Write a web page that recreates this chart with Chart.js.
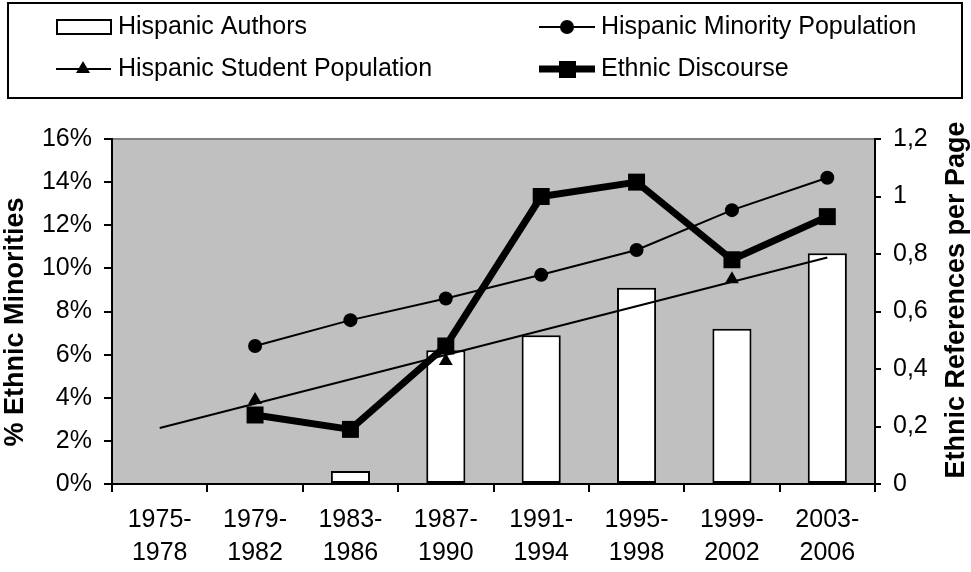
<!DOCTYPE html>
<html>
<head>
<meta charset="utf-8">
<script src="https://cdn.jsdelivr.net/npm/chart.js@4.4.1/dist/chart.umd.min.js"></script>
<style>
  body { margin: 0; background: #fff; }
  #wrap { width: 971px; height: 572px; }
</style>
</head>
<body>
<div id="wrap"><canvas id="chart" width="971" height="572"></canvas></div>
<script>
var categories = [['1975-', '1978'], ['1979-', '1982'], ['1983-', '1986'], ['1987-', '1990'],
                  ['1991-', '1994'], ['1995-', '1998'], ['1999-', '2002'], ['2003-', '2006']];

// left axis, percent
var hispanicAuthors = [null, null, 0.6, 6.2, 6.9, 9.1, 7.2, 10.7];
var minorityPopulation = [null, 6.4, 7.6, 8.6, 9.7, 10.85, 12.7, 14.2];
var studentPopulation = [null, 3.9, null, 5.7, null, null, 9.5, null];
var studentTrend = [2.6, null, null, null, null, null, null, 10.5];

// right axis, references per page
var ethnicDiscourse = [null, 0.24, 0.19, 0.48, 1.0, 1.05, 0.78, 0.93];

var FONT = "Arial, 'Liberation Sans', sans-serif";

var backdrop = {
  id: 'backdrop',
  beforeDraw: function(chart) {
    var ctx = chart.ctx, a = chart.chartArea;
    ctx.save();
    ctx.fillStyle = '#c0c0c0';
    ctx.fillRect(a.left, a.top, a.right - a.left, a.bottom - a.top);
    ctx.strokeStyle = '#808080';
    ctx.lineWidth = 2;
    ctx.beginPath();
    ctx.moveTo(a.left, a.top);
    ctx.lineTo(a.right, a.top);
    ctx.stroke();
    ctx.restore();
  }
};

var legendBox = {
  id: 'legendBox',
  afterDraw: function(chart) {
    var ctx = chart.ctx;
    ctx.save();
    ctx.strokeStyle = '#000';
    ctx.lineWidth = 2;
    ctx.strokeRect(8, 3, 954, 95);

    ctx.font = '25px ' + FONT;
    ctx.fillStyle = '#000';
    ctx.textBaseline = 'middle';

    // Hispanic Authors
    ctx.fillStyle = '#fff';
    ctx.fillRect(57, 20, 54, 14);
    ctx.strokeRect(57, 20, 54, 14);
    ctx.fillStyle = '#000';
    ctx.fillText('Hispanic Authors', 118, 27);

    // Hispanic Minority Population
    ctx.beginPath();
    ctx.moveTo(539, 27); ctx.lineTo(595, 27); ctx.stroke();
    ctx.beginPath(); ctx.arc(567, 27, 7, 0, Math.PI * 2); ctx.fill();
    ctx.fillText('Hispanic Minority Population', 601, 27);

    // Hispanic Student Population
    ctx.beginPath();
    ctx.moveTo(56, 69); ctx.lineTo(111, 69); ctx.stroke();
    ctx.beginPath();
    ctx.moveTo(83, 61); ctx.lineTo(90, 73); ctx.lineTo(76, 73); ctx.closePath(); ctx.fill();
    ctx.fillText('Hispanic Student Population', 118, 69);

    // Ethnic Discourse
    ctx.lineWidth = 7;
    ctx.beginPath();
    ctx.moveTo(539, 69); ctx.lineTo(595, 69); ctx.stroke();
    ctx.fillRect(559, 61, 17, 17);
    ctx.fillText('Ethnic Discourse', 601, 69);

    // axis titles, both reading bottom to top
    var a = chart.chartArea;
    ctx.font = 'bold 27px ' + FONT;
    ctx.textAlign = 'center';
    ctx.save();
    ctx.translate(16, 322);
    ctx.rotate(-Math.PI / 2);
    ctx.fillText('% Ethnic Minorities', 0, 0);
    ctx.restore();
    ctx.translate(957, 300);
    ctx.rotate(-Math.PI / 2);
    ctx.fillText('Ethnic References per Page', 0, 0);
    ctx.restore();
  }
};

var ctx = document.getElementById('chart').getContext('2d');
var chart = new Chart(ctx, {
  type: 'bar',
  data: {
    labels: categories,
    datasets: [{
      type: 'line',
      label: 'Ethnic Discourse',
      data: ethnicDiscourse,
      yAxisID: 'y2',
      borderColor: '#000',
      backgroundColor: '#000',
      borderWidth: 7,
      pointStyle: 'rect',
      pointRadius: 12,
      pointBorderWidth: 0,
      order: 1
    }, {
      type: 'line',
      label: 'Hispanic Minority Population',
      data: minorityPopulation,
      yAxisID: 'y',
      borderColor: '#000',
      backgroundColor: '#000',
      borderWidth: 2,
      pointStyle: 'circle',
      pointRadius: 7,
      pointBorderWidth: 0,
      order: 2
    }, {
      type: 'line',
      label: 'Hispanic Student Population',
      data: studentPopulation,
      yAxisID: 'y',
      showLine: false,
      backgroundColor: '#000',
      borderColor: '#000',
      pointStyle: 'triangle',
      pointRadius: 8,
      pointBorderWidth: 0,
      order: 3
    }, {
      type: 'line',
      label: 'Student trend',
      data: studentTrend,
      yAxisID: 'y',
      spanGaps: true,
      borderColor: '#000',
      borderWidth: 2,
      pointRadius: 0,
      order: 4
    }, {
      label: 'Hispanic Authors',
      data: hispanicAuthors,
      yAxisID: 'y',
      backgroundColor: '#fff',
      borderColor: '#000',
      borderWidth: 2,
      borderSkipped: false,
      barPercentage: 0.41,
      categoryPercentage: 1,
      order: 10
    }]
  },
  options: {
    responsive: false,
    animation: false,
    layout: { padding: { top: 139, left: 0, right: 0, bottom: 0 } },
    plugins: {
      legend: { display: false },
      tooltip: { enabled: false }
    },
    scales: {
      x: {
        offset: true,
        grid: { offset: true, drawOnChartArea: false, color: '#000', lineWidth: 2, tickLength: 8 },
        border: { color: '#000', width: 2 },
        ticks: { color: '#000', font: { family: FONT, size: 25, lineHeight: 1.3 }, padding: 12, maxRotation: 0, autoSkip: false },
        afterFit: function(s) { s.height = 88; }
      },
      y: {
        position: 'left',
        min: 0,
        max: 16,
        ticks: {
          stepSize: 2,
          color: '#000',
          padding: 12,
          font: { family: FONT, size: 25 },
          callback: function(v) { return v + '%'; }
        },
        grid: { drawOnChartArea: false, color: '#000', lineWidth: 2, tickLength: 8 },
        border: { color: '#000', width: 2 },
        afterFit: function(s) { s.width = 112; }
      },
      y2: {
        position: 'right',
        min: 0,
        max: 1.2,
        ticks: {
          stepSize: 0.2,
          color: '#000',
          padding: 12,
          font: { family: FONT, size: 25 },
          callback: function(v) { return String(Math.round(v * 10) / 10).replace('.', ','); }
        },
        grid: { drawOnChartArea: false, color: '#000', lineWidth: 2, tickLength: 6 },
        border: { color: '#000', width: 2 },
        afterFit: function(s) { s.width = 96; }
      }
    }
  },
  plugins: [backdrop, legendBox]
});
</script>
</body>
</html>
